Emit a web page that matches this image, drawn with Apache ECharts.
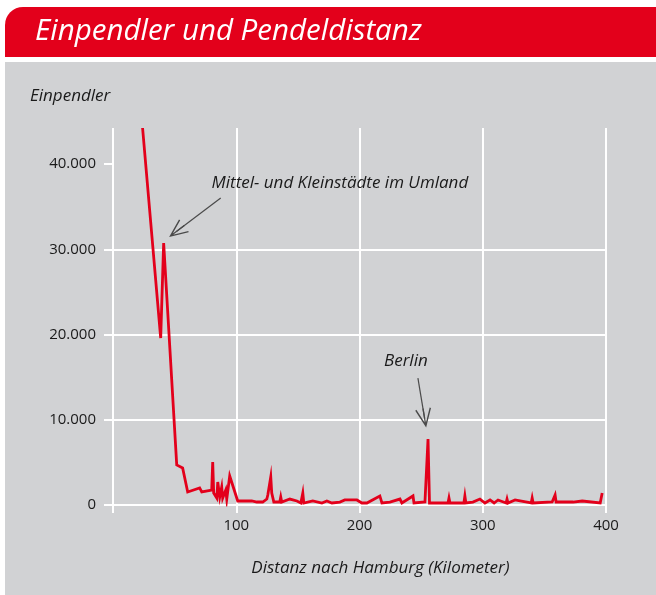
<!DOCTYPE html>
<html>
<head>
<meta charset="utf-8">
<script src="https://cdn.jsdelivr.net/npm/echarts@6/dist/echarts.min.js"></script>
<style>
  html, body { margin: 0; padding: 0; background: #fff; }
  #chart { width: 656px; height: 595px; }
</style>
</head>
<body>
<div id="chart"></div>
<script>
// Distanz nach Hamburg (km) und Einpendler
const distanceKm = [24, 38.7, 41.1, 51.7, 56.5, 60.6, 70.3, 72.0, 80.1, 80.9, 81.7, 84.2, 85.0, 86.6, 88.2, 89.0,
    91.5, 92.3, 94.7, 101.2, 112.6, 116.7, 121.5, 124.8, 125.6, 128.0, 128.8, 130.5, 135.3, 136.1, 136.9,
    143.5, 149.2, 152.4, 154.0, 154.8, 162.1, 169.5, 173.5, 177.6, 184.1, 188.1, 197.9, 201.9, 206.0,
    216.5, 218.2, 224.7, 232.8, 234.4, 243.4, 244.2, 253.1, 254.3, 255.6, 256.8, 271.8, 272.6, 273.4,
    284.7, 285.5, 286.3, 292.0, 297.7, 301.8, 305.9, 309.2, 312.4, 318.9, 319.7, 320.5, 326.2, 330.3,
    339.3, 340.1, 340.9, 356.3, 357.5, 358.7, 359.5, 366.1, 373.4, 380.7, 395.3, 396.1, 396.9];
const commuters = [44250, 19600, 30750, 4700, 4340, 1530, 2000, 1530, 1760, 5050, 1410, 820, 2700, 940, 2110, 820,
    1760, 700, 3400, 470, 470, 350, 350, 700, 1170, 3290, 1410, 350, 350, 940, 350,
    700, 470, 235, 1410, 235, 470, 235, 470, 235, 350, 590, 590, 235, 235,
    1060, 235, 350, 700, 235, 1060, 235, 350, 235, 7750, 235, 235, 820, 235,
    235, 1060, 235, 350, 700, 235, 590, 235, 590, 235, 700, 235, 590, 470,
    235, 820, 235, 350, 350, 1170, 350, 350, 350, 470, 235, 235, 1410];

const xTicks = [0, 100, 200, 300, 400];
const yTicks = [0, 10000, 20000, 30000, 40000];

// Beschriftungen: [km, Einpendler]
const annotations = [
    { text: 'Mittel- und Kleinstädte im Umland', at: [184.1, 37750] },
    { text: 'Berlin', at: [237.6, 16850] }
];
const arrows = [
    { from: [87.4, 36030], to: [51.7, 32130] },
    { from: [247.4, 14900], to: [252.8, 10200] }
];

const RED = '#e3001b';
const GREY = '#d1d2d4';
const FONT = '"Open Sans", "Noto Sans", sans-serif';

const fmt = v => String(v).replace(/\B(?=(\d{3})+(?!\d))/g, '.');

const arrowHead = 'path://M7,0 L14,15 L12.9,15.5 L7,2.8 L1.1,15.5 L0,15 Z M6.45,2 L7.55,2 L7.55,15.5 L6.45,15.5 Z';

const chart = echarts.init(document.getElementById('chart'));
chart.setOption({
    backgroundColor: '#fff',
    animation: false,
    graphic: [
        { type: 'rect', z: -10, silent: true, shape: { x: 5, y: 62, width: 651, height: 533 }, style: { fill: GREY } },
        { type: 'rect', z: -10, silent: true, shape: { x: 5, y: 7, width: 651, height: 50, r: [18, 0, 0, 0] }, style: { fill: RED } }
    ],
    title: [
        {
            text: 'Einpendler und Pendeldistanz',
            left: 30, top: 12,
            textStyle: { color: '#fff', fontFamily: FONT, fontStyle: 'italic', fontWeight: 'normal', fontSize: 29.5 }
        },
        {
            text: 'Einpendler',
            left: 25, top: 83,
            textStyle: { color: '#1a1a1a', fontFamily: FONT, fontStyle: 'italic', fontWeight: 'normal', fontSize: 17 }
        }
    ],
    grid: { left: 113, right: 50, top: 128, bottom: 90, containLabel: false },
    xAxis: {
        type: 'value',
        min: 0, max: 400, interval: 100,
        name: 'Distanz nach Hamburg (Kilometer)',
        nameLocation: 'middle',
        nameGap: 55,
        nameTextStyle: { color: '#1a1a1a', fontFamily: FONT, fontStyle: 'italic', fontSize: 17, padding: [0, 0, 0, 42] },
        axisLine: { show: false },
        axisTick: { show: true, length: 8, lineStyle: { color: '#fff', width: 2 }, customValues: xTicks },
        axisLabel: {
            customValues: xTicks,
            color: '#1a1a1a', fontFamily: FONT, fontSize: 15, margin: 13,
            formatter: v => (v === 0 ? '' : String(v))
        },
        splitLine: { show: true, lineStyle: { color: '#fff', width: 2 } }
    },
    yAxis: {
        type: 'value',
        min: 0, max: 44250,
        axisLine: { show: false },
        axisTick: { show: true, length: 9, lineStyle: { color: '#fff', width: 2 }, customValues: yTicks },
        axisLabel: {
            customValues: yTicks,
            color: '#1a1a1a', fontFamily: FONT, fontSize: 15, margin: 17,
            formatter: fmt
        },
        splitLine: { show: true, showMaxLine: false, lineStyle: { color: '#fff', width: 2 } }
    },
    series: [{
        type: 'line',
        data: distanceKm.map((d, i) => [d, commuters[i]]),
        showSymbol: false,
        symbol: 'none',
        lineStyle: { color: RED, width: 2.8, join: 'miter' },
        z: 5,
        markLine: {
            silent: true,
            symbol: ['none', arrowHead],
            symbolSize: [16, 19],
            label: { show: false },
            lineStyle: { color: '#4a4a4a', width: 1.2, type: 'solid' },
            data: arrows.map(a => [{ coord: a.from }, { coord: a.to }])
        },
        markPoint: {
            silent: true,
            symbol: 'circle',
            symbolSize: 0,
            label: {
                show: true, position: 'inside',
                color: '#1a1a1a', fontFamily: FONT, fontStyle: 'italic', fontSize: 17,
                formatter: p => p.name
            },
            data: annotations.map(a => ({ name: a.text, coord: a.at }))
        }
    }]
});

window.addEventListener('resize', () => chart.resize());
</script>
</body>
</html>
